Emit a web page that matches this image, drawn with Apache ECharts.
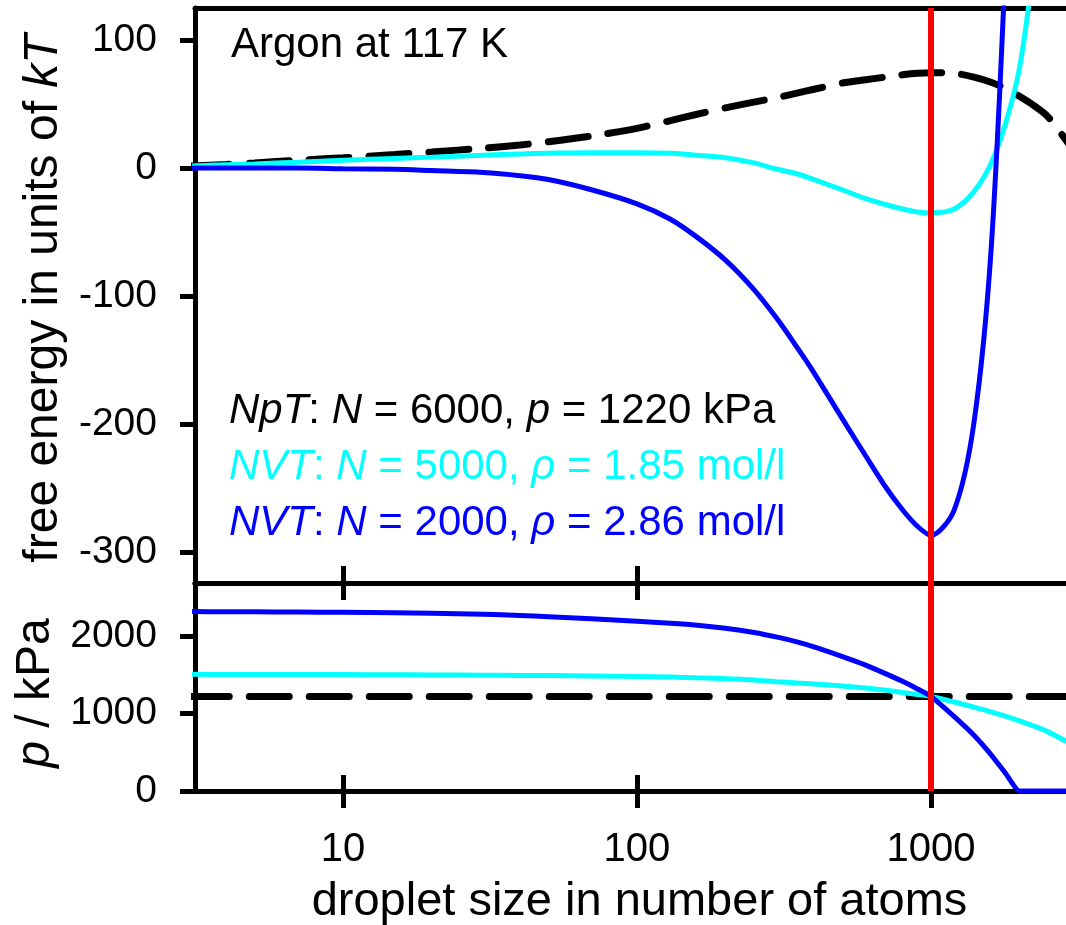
<!DOCTYPE html>
<html>
<head>
<meta charset="utf-8">
<script src="https://cdn.jsdelivr.net/npm/echarts@6/dist/echarts.min.js"></script>
<style>
html, body { margin: 0; padding: 0; background: #ffffff; }
#chart { width: 1066px; height: 925px; }
</style>
</head>
<body>
<div id="chart"></div>
<script>
// ---- data ----
const sizes       = [3, 4, 5, 7, 10, 15, 20, 30, 40, 50, 70, 100, 130, 160, 200, 250, 300, 350, 400, 500, 600, 700, 800, 900, 1000, 1200, 1400, 1600, 1800, 2000, 2200, 2500, 3000];
// free energy in units of kT
const freeNpT     = [1.5, 2.8, 4, 6, 8, 10.5, 12.5, 15.5, 18, 20.5, 25, 31, 37, 42, 47, 51.5, 55, 58.5, 61.5, 66.4, 69, 71, 72.8, 74, 74.5, 74, 71, 67, 62, 56, 50, 40, 16];
const freeNVT5000 = [1.5, 2.5, 3.2, 4.5, 6, 7.5, 8.5, 10, 11, 11.5, 12, 12, 11.5, 10, 8, 4, -1, -4.5, -9, -17, -24, -28.5, -32, -34.3, -35, -32, -18.5, 3.5, 36, 78, 145, null, null];
const freeNVT2000 = [0, 0, 0, 0, -0.5, -1, -2, -3.5, -6, -9, -17, -28, -40, -54, -72, -95, -118, -140, -160, -196, -225, -249, -267, -280, -287, -267, -199, -65, 170, null, null, null, null];
// pressure in kPa
const pNpT        = [1220, 1220, 1220, 1220, 1220, 1220, 1220, 1220, 1220, 1220, 1220, 1220, 1220, 1220, 1220, 1220, 1220, 1220, 1220, 1220, 1220, 1220, 1220, 1220, 1220, 1220, 1220, 1220, 1220, 1220, 1220, 1220, 1220];
const pNVT5000    = [1505, 1504, 1503, 1502.5, 1502, 1500, 1498, 1495, 1492, 1490, 1485, 1478, 1470, 1460, 1450, 1432, 1410, 1395, 1380, 1355, 1328, 1300, 1272, 1246, 1220, 1148, 1082, 1022, 964, 906, 849, 763, 605];
const pNVT2000    = [2315, 2314, 2312, 2309, 2305, 2299, 2293, 2280, 2265, 2250, 2222, 2190, 2165, 2140, 2100, 2045, 1985, 1925, 1860, 1735, 1625, 1515, 1415, 1317, 1220, 960, 720, 470, 220, 0, 0, 0, 0];
const criticalSize = 1000;
// ticks
const xTicks    = [10, 100, 1000];
const freeTicks = [-300, -200, -100, 0, 100];
const pTicks    = [0, 1000, 2000];
// axis ranges
const X_MIN = 3.138, X_MAX = 2879;
const FREE_MIN = -324.2, FREE_MAX = 125;
const P_MIN = 0, P_MAX = 2684;

// ---- chart ----
const FONT = '"Liberation Sans", Arial, Helvetica, sans-serif';
const pairs = vals => sizes.map((n, i) => [n, vals[i]]);
const fmt = v => String(Math.round(v));

function xAx(grid, pos, extra) {
  return Object.assign({
    gridIndex: grid, type: 'log', logBase: 10, min: X_MIN, max: X_MAX, position: pos,
    splitLine: { show: false },
    axisLine: { show: true, onZero: false, lineStyle: { color: '#000', width: 5 } },
    axisTick: { show: false },
    axisLabel: { show: false }
  }, extra || {});
}
const tick = (inside, len) => ({ show: true, inside: inside, length: len, customValues: xTicks, lineStyle: { color: '#000', width: 5 } });

function yAx(grid, min, max, ticks, name, namePad) {
  return {
    gridIndex: grid, type: 'value', min: min, max: max, position: 'left',
    splitLine: { show: false },
    axisLine: { show: true, onZero: false, lineStyle: { color: '#000', width: 5 } },
    axisTick: { show: true, inside: false, length: 15, customValues: ticks, lineStyle: { color: '#000', width: 5 } },
    axisLabel: { show: true, customValues: ticks, formatter: fmt, color: '#000', fontSize: 39, fontFamily: FONT, margin: 38 },
    name: name, nameLocation: 'middle', nameGap: 127,
    nameTextStyle: {
      color: '#000', fontSize: 48, fontFamily: FONT, padding: namePad,
      rich: {
        n: { fontSize: 48, fontFamily: FONT, color: '#000' },
        i: { fontSize: 48, fontFamily: FONT, color: '#000', fontStyle: 'italic' }
      }
    }
  };
}

const richLegend = (color, size) => ({
  i: { fontStyle: 'italic', fontSize: size, fontFamily: FONT, fill: color }
});

const option = {
  animation: false,
  backgroundColor: '#ffffff',
  grid: [
    { left: 195, top: 8, right: 0, height: 575, containLabel: false, outerBoundsMode: 'none' },
    { left: 195, top: 583, right: 0, height: 208, containLabel: false, outerBoundsMode: 'none' }
  ],
  xAxis: [
    xAx(0, 'bottom', { axisTick: tick(true, 17) }),
    xAx(0, 'top'),
    xAx(1, 'bottom', {
      axisTick: tick(false, 17),
      axisLabel: { show: true, customValues: xTicks, formatter: fmt,
                   color: '#000', fontSize: 40, fontFamily: FONT, margin: 39 },
      name: 'droplet size in number of atoms', nameLocation: 'middle', nameGap: 88,
      nameTextStyle: { color: '#000', fontSize: 47, fontFamily: FONT, padding: [0, 0, 0, 18] }
    }),
    xAx(1, 'bottom', { axisLine: { show: false, onZero: false }, axisTick: tick(true, 16) }),
    xAx(1, 'top', { axisTick: tick(true, 17) })
  ],
  yAxis: [
    yAx(0, FREE_MIN, FREE_MAX, freeTicks, '{n|free energy in units of }{i|kT}', [0, 6, 0, 0]),
    yAx(1, P_MIN, P_MAX, pTicks, '{i|p}{n| / kPa}', [0, 12, 0, 0])
  ],
  series: [
    { name: 'NpT free', type: 'line', xAxisIndex: 0, yAxisIndex: 0, data: pairs(freeNpT),
      showSymbol: false, symbol: 'none', silent: true, smooth: 0.3,
      lineStyle: { color: '#000', width: 7, type: [40, 20], cap: 'round' } },
    { name: 'NVT5000 free', type: 'line', xAxisIndex: 0, yAxisIndex: 0, data: pairs(freeNVT5000),
      showSymbol: false, symbol: 'none', silent: true, smooth: 0.3,
      lineStyle: { color: '#00ffff', width: 5 } },
    { name: 'NVT2000 free', type: 'line', xAxisIndex: 0, yAxisIndex: 0, data: pairs(freeNVT2000),
      showSymbol: false, symbol: 'none', silent: true, smooth: 0.3,
      lineStyle: { color: '#0000ff', width: 5 },
      markLine: { silent: true, symbol: 'none', label: { show: false },
        lineStyle: { color: '#ff0000', width: 6, type: 'solid' },
        data: [{ xAxis: criticalSize }] } },
    { name: 'NpT p', type: 'line', xAxisIndex: 2, yAxisIndex: 1, data: pairs(pNpT),
      showSymbol: false, symbol: 'none', silent: true,
      lineStyle: { color: '#000', width: 7, type: [40, 20], cap: 'round' } },
    { name: 'NVT5000 p', type: 'line', xAxisIndex: 2, yAxisIndex: 1, data: pairs(pNVT5000),
      showSymbol: false, symbol: 'none', silent: true, smooth: 0.3,
      lineStyle: { color: '#00ffff', width: 5 } },
    { name: 'NVT2000 p', type: 'line', xAxisIndex: 2, yAxisIndex: 1, data: pairs(pNVT2000),
      showSymbol: false, symbol: 'none', silent: true, smooth: 0.2,
      lineStyle: { color: '#0000ff', width: 5 },
      markLine: { silent: true, symbol: 'none', label: { show: false },
        lineStyle: { color: '#ff0000', width: 6, type: 'solid' },
        data: [{ xAxis: criticalSize }] } }
  ],
  graphic: [
    { type: 'text', left: 231, top: 24,
      style: { text: 'Argon at 117 K', fill: '#000', fontSize: 42, fontFamily: FONT } },
    { type: 'text', left: 229, top: 390,
      style: { text: '{i|NpT}: {i|N} = 6000, {i|p} = 1220 kPa', fill: '#000', fontSize: 42, fontFamily: FONT, rich: richLegend('#000', 42) } },
    { type: 'text', left: 229, top: 446,
      style: { text: '{i|NVT}: {i|N} = 5000, {i|ρ} = 1.85 mol/l', fill: '#00ffff', fontSize: 42, fontFamily: FONT, rich: richLegend('#00ffff', 42) } },
    { type: 'text', left: 229, top: 502,
      style: { text: '{i|NVT}: {i|N} = 2000, {i|ρ} = 2.86 mol/l', fill: '#0000ff', fontSize: 42, fontFamily: FONT, rich: richLegend('#0000ff', 42) } }
  ]
};

const chart = echarts.init(document.getElementById('chart'), null, { renderer: 'canvas' });
chart.setOption(option);
</script>
</body>
</html>
